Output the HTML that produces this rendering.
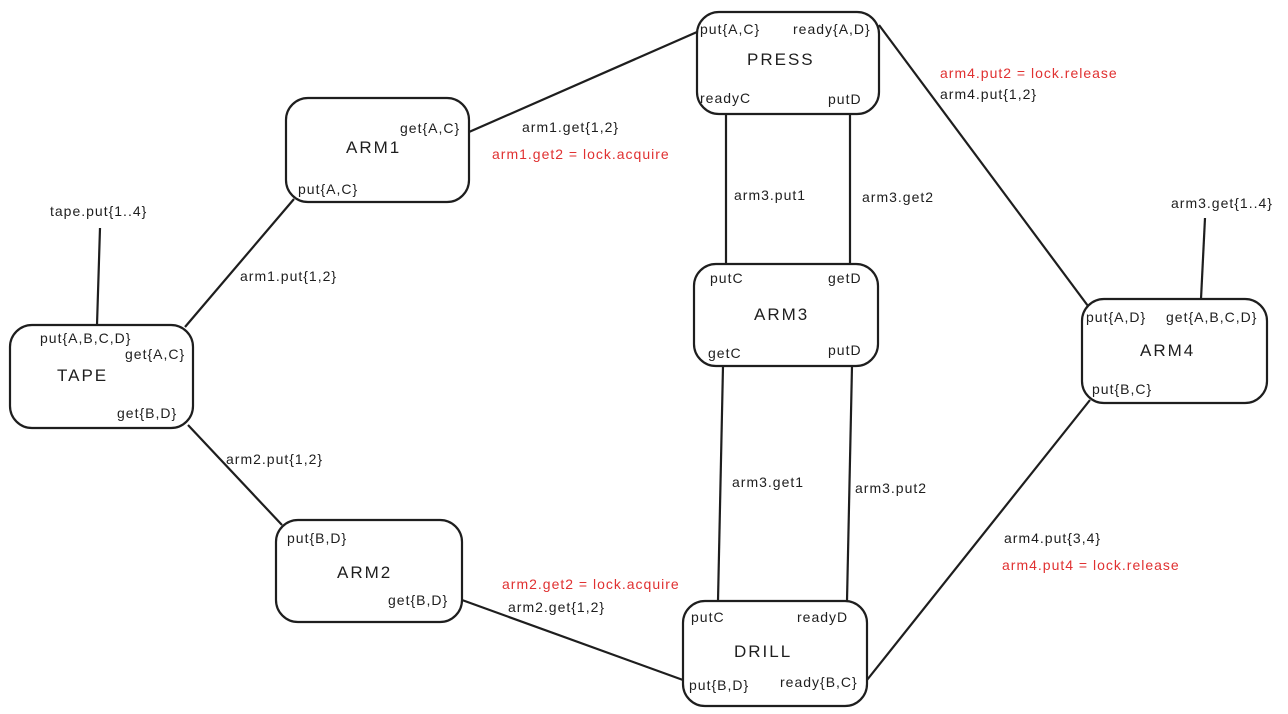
<!DOCTYPE html>
<html><head><meta charset="utf-8"><style>
html,body{margin:0;padding:0;background:#fff;}
svg{display:block;}
text{font-family:"Liberation Sans",sans-serif;font-size:14px;letter-spacing:1px;fill:#1e1e1e;}
.t{font-size:17px;letter-spacing:2px;}
.r{fill:#e03131;}
rect{fill:none;stroke:#1e1e1e;stroke-width:2.2;}
line{stroke:#1e1e1e;stroke-width:2.2;}
</style></head><body>
<svg width="1288" height="714" viewBox="0 0 1288 714">
<line x1="469" y1="132" x2="697" y2="32"/>
<line x1="294" y1="199" x2="185" y2="327"/>
<line x1="97" y1="325" x2="100" y2="228"/>
<line x1="188" y1="425" x2="282" y2="525"/>
<line x1="462" y1="600" x2="683" y2="680"/>
<line x1="879" y1="25" x2="1088" y2="306"/>
<line x1="1090" y1="400" x2="867" y2="680"/>
<line x1="1201" y1="299" x2="1205" y2="218"/>
<line x1="726" y1="114" x2="726" y2="264"/>
<line x1="850" y1="114" x2="850" y2="264"/>
<line x1="723" y1="366" x2="718" y2="601"/>
<line x1="852" y1="366" x2="847" y2="601"/>
<rect x="697" y="12" width="182" height="102" rx="22"/>
<rect x="286" y="98" width="183" height="104" rx="22"/>
<rect x="10" y="325" width="183" height="103" rx="22"/>
<rect x="276" y="520" width="186" height="102" rx="22"/>
<rect x="694" y="264" width="184" height="102" rx="22"/>
<rect x="683" y="601" width="184" height="105" rx="22"/>
<rect x="1082" y="299" width="185" height="104" rx="22"/>
<text x="700" y="34">put{A,C}</text>
<text x="793" y="34">ready{A,D}</text>
<text class="t" x="747" y="65">PRESS</text>
<text x="700" y="103">readyC</text>
<text x="828" y="104">putD</text>
<text x="400" y="133">get{A,C}</text>
<text class="t" x="346" y="153">ARM1</text>
<text x="298" y="194">put{A,C}</text>
<text x="40" y="343">put{A,B,C,D}</text>
<text x="125" y="359">get{A,C}</text>
<text class="t" x="57" y="381">TAPE</text>
<text x="117" y="418">get{B,D}</text>
<text x="287" y="543">put{B,D}</text>
<text class="t" x="337" y="578">ARM2</text>
<text x="388" y="605">get{B,D}</text>
<text x="710" y="283">putC</text>
<text x="828" y="283">getD</text>
<text class="t" x="754" y="320">ARM3</text>
<text x="708" y="358">getC</text>
<text x="828" y="355">putD</text>
<text x="691" y="622">putC</text>
<text x="797" y="622">readyD</text>
<text class="t" x="734" y="657">DRILL</text>
<text x="689" y="690">put{B,D}</text>
<text x="780" y="687">ready{B,C}</text>
<text x="1086" y="322">put{A,D}</text>
<text x="1166" y="322">get{A,B,C,D}</text>
<text class="t" x="1140" y="356">ARM4</text>
<text x="1092" y="394">put{B,C}</text>
<text x="522" y="132">arm1.get{1,2}</text>
<text class="r" x="492" y="159">arm1.get2 = lock.acquire</text>
<text x="50" y="216">tape.put{1..4}</text>
<text x="240" y="281">arm1.put{1,2}</text>
<text x="226" y="464">arm2.put{1,2}</text>
<text class="r" x="502" y="589">arm2.get2 = lock.acquire</text>
<text x="508" y="612">arm2.get{1,2}</text>
<text x="734" y="200">arm3.put1</text>
<text x="862" y="202">arm3.get2</text>
<text x="732" y="487">arm3.get1</text>
<text x="855" y="493">arm3.put2</text>
<text class="r" x="940" y="78">arm4.put2 = lock.release</text>
<text x="940" y="99">arm4.put{1,2}</text>
<text x="1171" y="208">arm3.get{1..4}</text>
<text x="1004" y="543">arm4.put{3,4}</text>
<text class="r" x="1002" y="570">arm4.put4 = lock.release</text>
</svg>
</body></html>
